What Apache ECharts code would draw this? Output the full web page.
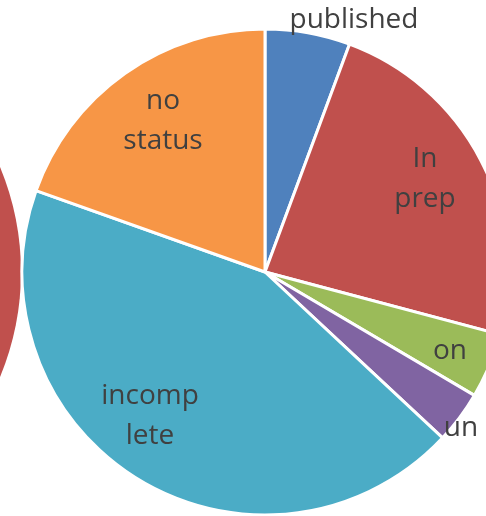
<!DOCTYPE html>
<html>
<head>
<meta charset="utf-8">
<script src="https://cdn.jsdelivr.net/npm/echarts@6/dist/echarts.min.js"></script>
<style>
html,body{margin:0;padding:0;background:#fff;}
#chart{width:486px;height:516px;}
</style>
</head>
<body>
<div id="chart"></div>
<script>
// Data
const categories = ["published", "In\nprep", "on", "un", "incomp\nlete", "no\nstatus"];
const values = [13, 54, 10, 8, 100, 45];
const colors = ["#4F81BD", "#C0504D", "#9BBB59", "#8064A2", "#4BACC6", "#F79646"];

// neighbouring (cropped) pie at the left edge
const neighbourValues = [1];
const neighbourColors = ["#C0504D"];

// label anchor points (layout only)
const labelPos = [[354, 20], [425, 179], [450, 351], [461, 428], [150, 416], [163, 121]];

const chart = echarts.init(document.getElementById('chart'), null, {renderer: 'canvas'});
chart.setOption({
  animation: false,
  backgroundColor: '#ffffff',
  series: [
    {
      type: 'pie',
      silent: true,
      center: [-252, 272],
      radius: 273,
      startAngle: 90,
      label: {show: false},
      labelLine: {show: false},
      data: neighbourValues.map((v, i) => ({value: v, itemStyle: {color: neighbourColors[i]}}))
    },
    {
      type: 'pie',
      center: [265, 272],
      radius: 243,
      startAngle: 90,
      clockwise: true,
      avoidLabelOverlap: false,
      itemStyle: {borderColor: '#ffffff', borderWidth: 3},
      label: {
        show: true,
        position: 'inside',
        formatter: '{b}',
        color: '#404040',
        fontFamily: 'Open Sans',
        fontSize: 28,
        lineHeight: 40,
        align: 'center'
      },
      labelLine: {show: false},
      labelLayout: function (p) {
        const pos = labelPos[p.dataIndex];
        return {x: pos[0], y: pos[1], align: 'center', verticalAlign: 'middle'};
      },
      data: categories.map((c, i) => ({name: c, value: values[i], itemStyle: {color: colors[i]}}))
    }
  ]
});
</script>
</body>
</html>
